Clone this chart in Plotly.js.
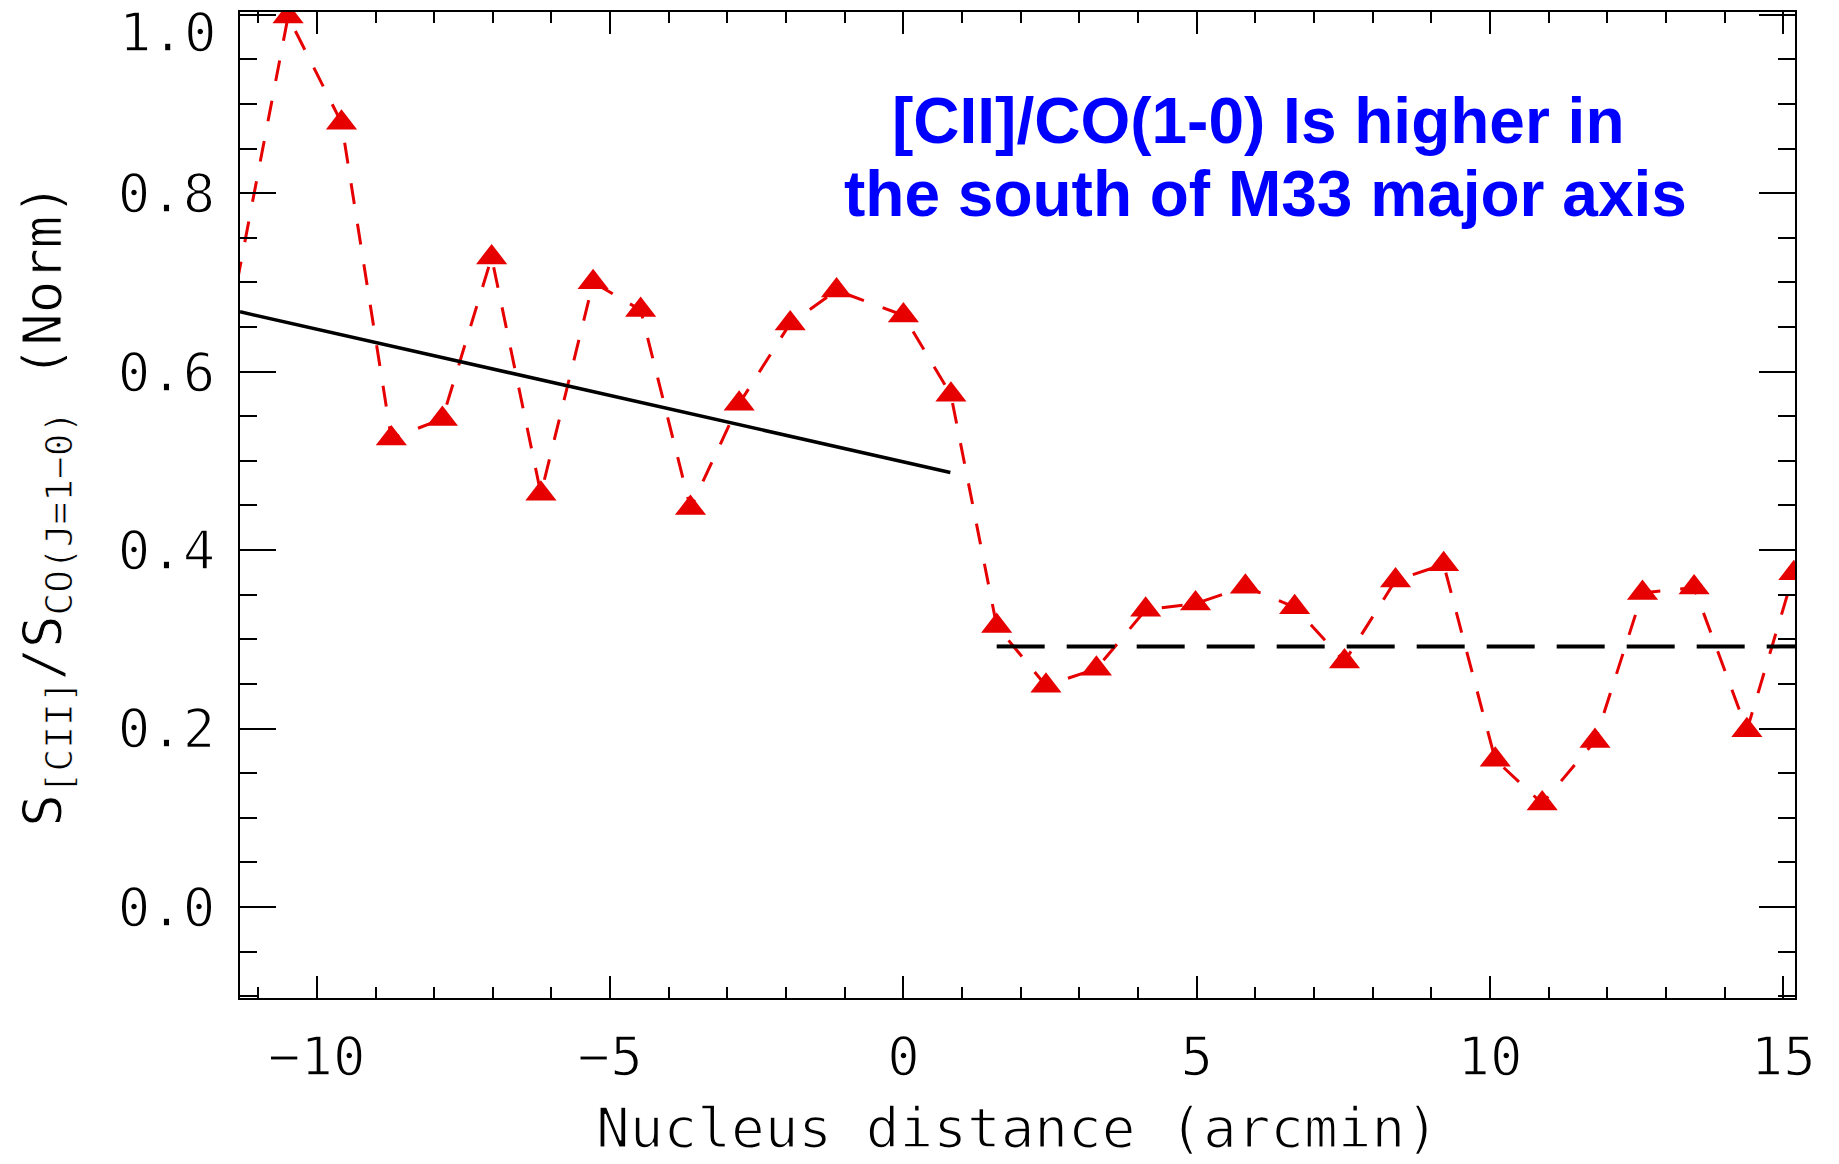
<!DOCTYPE html>
<html><head><meta charset="utf-8">
<script src="https://cdn.plot.ly/plotly-3.0.1.min.js"></script>
<style>html,body{margin:0;padding:0;background:#fff;} #chart{width:1839px;height:1164px;}
#chart g.xtick text, #chart g.ytick text, #chart text.xtitle,
#chart g.annotation[data-index="0"] text { stroke:#fff; stroke-width:1.5px; }
#chart text.ytitle { stroke:#fff; stroke-width:1px; }
</style>
</head><body><div id="chart"></div>
<script>
// Nucleus distance (arcmin) of each sampled position along the major axis
const distance = [-11.36, -10.49, -9.58, -8.73, -7.86, -7.02, -6.18, -5.29, -4.48, -3.63,
                  -2.80, -1.93, -1.14, 0.00, 0.81, 1.59, 2.43, 3.29, 4.13, 4.98,
                  5.83, 6.67, 7.52, 8.39, 9.21, 10.09, 10.89, 11.79, 12.60, 13.48,
                  14.38, 15.18];
// Normalised [CII]/CO(1-0) ratio
const ratio = [0.700, 0.998, 0.879, 0.525, 0.547, 0.728, 0.463, 0.700, 0.669, 0.447,
               0.564, 0.654, 0.691, 0.663, 0.574, 0.315, 0.248, 0.267, 0.333, 0.340,
               0.359, 0.336, 0.275, 0.366, 0.384, 0.165, 0.116, 0.186, 0.352, 0.358,
               0.198, 0.374];
// Linear fit on the north side
const fitX = [-11.31, 0.80];
const fitY = [0.667, 0.487];
// Mean level on the south side
const meanX = [1.59, 15.2];
const meanY = [0.292, 0.292];

const xTicks = [-10, -5, 0, 5, 10, 15];
const yTicks = [0.0, 0.2, 0.4, 0.6, 0.8, 1.0];
const yTickText = ['0.0', '0.2', '0.4', '0.6', '0.8', '1.0'];
const titleLines = ['[CII]/CO(1-0) Is higher in', 'the south of M33 major axis'];
const xTitle = 'Nucleus distance (arcmin)';
const yTitle = 'S<sub>[CII]</sub>/S<sub>CO(J=1\u22120)</sub> (Norm)';

const xRange = [-11.31, 15.2];
const yRange = [-0.102, 1.003];

// symbols are only drawn for points inside the plot window
const markerSizes = distance.map(d => (d < xRange[0] || d > xRange[1]) ? 0 : 27);

const RED = 'rgb(230,0,0)';
const MONO = 'DejaVu Sans Mono, monospace';
const axisFont = {family: MONO, size: 54, color: '#000'};

const traces = [
  {
    x: distance, y: ratio, type: 'scatter', mode: 'lines+markers',
    line: {color: RED, width: 3, dash: '21px,20px'},
    marker: {symbol: 'triangle-up', size: markerSizes, color: RED, opacity: 1, line: {width: 0}},
    hoverinfo: 'x+y', showlegend: false
  },
  {
    x: fitX, y: fitY, type: 'scatter', mode: 'lines',
    line: {color: '#000', width: 3.5}, showlegend: false
  },
  {
    x: meanX, y: meanY, type: 'scatter', mode: 'lines',
    line: {color: '#000', width: 4, dash: '48px,22px'}, showlegend: false
  }
];

const W = 1839, H = 1164;
const M = {l: 240, r: 44, t: 12, b: 166};
const pw = W - M.l - M.r, ph = H - M.t - M.b;
const px2paperX = px => (px - M.l) / pw;
const px2paperY = py => (H - M.b - py) / ph;

// the top tick label sits lowered inside the frame, as in the original
const topIdx = yTicks.length - 1;
const yTickShown = yTickText.map((t, i) => i === topIdx ? '' : t);

const layout = {
  width: W, height: H,
  margin: M,
  paper_bgcolor: '#fff', plot_bgcolor: '#fff',
  showlegend: false,
  xaxis: {
    range: xRange, tickvals: xTicks, ticks: 'inside', ticklen: 22, tickwidth: 2, tickcolor: '#000',
    minor: {dtick: 1, tick0: 0, ticks: 'inside', ticklen: 11, tickwidth: 2, tickcolor: '#000', showgrid: false},
    showline: true, linewidth: 2, linecolor: '#000', mirror: 'ticks',
    showgrid: false, zeroline: false, tickfont: axisFont, ticklabelstandoff: 10,
    title: {text: xTitle, font: {family: MONO, size: 56, color: '#000'}, standoff: 21}, automargin: false
  },
  yaxis: {
    range: yRange, tickvals: yTicks, ticktext: yTickShown, ticks: 'inside', ticklen: 36, tickwidth: 2, tickcolor: '#000',
    minor: {dtick: 0.05, tick0: 0, ticks: 'inside', ticklen: 17, tickwidth: 2, tickcolor: '#000', showgrid: false},
    showline: true, linewidth: 2, linecolor: '#000', mirror: 'ticks',
    showgrid: false, zeroline: false, tickfont: axisFont, ticklabelstandoff: 12,
    title: {text: yTitle, font: {family: MONO, size: 54, color: '#000'}, standoff: 39}, automargin: false
  },
  annotations: [
    {text: yTickText[topIdx], xref: 'paper', yref: 'paper', x: px2paperX(219), y: px2paperY(32),
     xanchor: 'right', yanchor: 'middle', showarrow: false, font: axisFont},
    {text: titleLines[0], xref: 'paper', yref: 'paper', x: px2paperX(1257.5), y: px2paperY(121),
     xanchor: 'center', yanchor: 'middle', showarrow: false,
     font: {family: 'Liberation Sans, Arial, sans-serif', size: 64, color: '#0000ff', weight: 'bold'}},
    {text: titleLines[1], xref: 'paper', yref: 'paper', x: px2paperX(1265.5), y: px2paperY(194),
     xanchor: 'center', yanchor: 'middle', showarrow: false,
     font: {family: 'Liberation Sans, Arial, sans-serif', size: 64, color: '#0000ff', weight: 'bold'}}
  ]
};

Plotly.newPlot('chart', traces, layout, {displayModeBar: false, staticPlot: true});
</script>
</body></html>
